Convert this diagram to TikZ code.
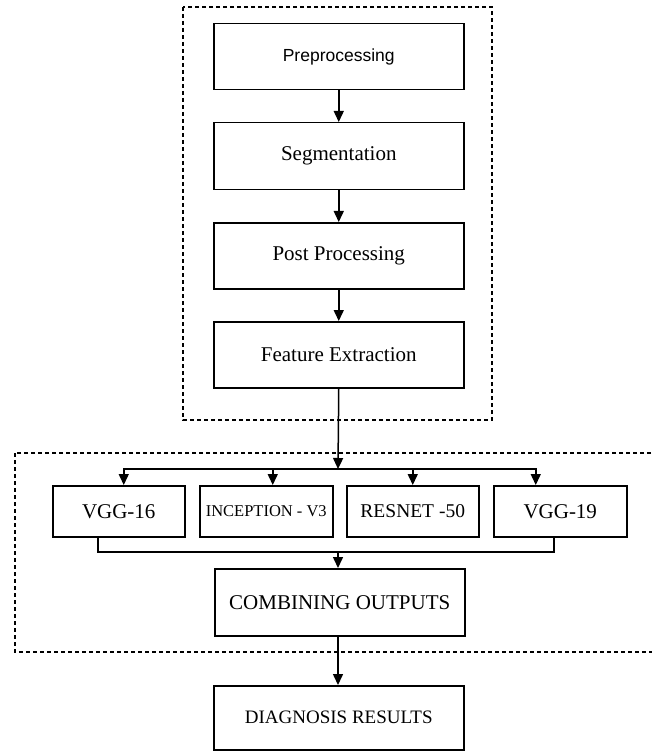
\documentclass[tikz,border=0pt]{standalone}
\usepackage{fontspec}
\setmainfont{Liberation Serif}
\newfontfamily\prepfont{Liberation Sans}
\usetikzlibrary{arrows.meta,calc}
\begin{document}
\begin{tikzpicture}[x=1pt,y=-1pt,
  box/.style={draw,line width=1.5pt,inner sep=0pt,anchor=north west},
  arr/.style={line width=1.5pt,-{Triangle[length=11pt,width=10pt]}},
  ln/.style={line width=1.5pt},
  grp/.style={line width=1.2pt,dash pattern=on 4pt off 3pt},
  lbl/.style={font=\fontsize{21}{24}\selectfont}]
\useasboundingbox (0,0) rectangle (652,751);
\begin{scope}
\clip (0,0) rectangle (652,751);
\draw[grp] (183,7) rectangle (492,420);
\draw[grp] (15,453) rectangle (680,652);
\end{scope}
% top chain
\node[box,minimum width=250pt,minimum height=66pt,font=\prepfont\fontsize{17.5}{20}\selectfont] (pre) at (213,23) {Preprocessing};
\node[box,lbl,minimum width=250pt,minimum height=67pt] (seg) at (213,122) {Segmentation};
\node[box,lbl,minimum width=250pt,minimum height=66pt] (post) at (213,222) {Post Processing};
\node[box,lbl,minimum width=250pt,minimum height=66pt] (fe) at (213,321) {Feature Extraction};
% models
\node[box,lbl,minimum width=132pt,minimum height=51pt] (v16) at (52,485) {VGG-16};
\node[box,font=\fontsize{16.5}{19}\selectfont,minimum width=133pt,minimum height=51pt] (inc) at (199,485) {INCEPTION - V3};
\node[box,font=\fontsize{19.5}{22}\selectfont,minimum width=132pt,minimum height=51pt] (res) at (346,485) {RESNET -50};
\node[box,lbl,minimum width=133pt,minimum height=51pt] (v19) at (493,485) {VGG-19};
\node[box,lbl,minimum width=250pt,minimum height=67pt] (comb) at (214,568) {COMBINING OUTPUTS};
\node[box,font=\fontsize{19}{22}\selectfont,minimum width=250pt,minimum height=64pt] (diag) at (213,685) {DIAGNOSIS RESULTS};
% connectors
\coordinate (split) at (338,469);
\coordinate (merge) at (338,552);
\draw[arr] (pre) -- (seg);
\draw[arr] (seg) -- (post);
\draw[arr] (post) -- (fe);
\draw[arr] (fe.south) -- (split);
\draw[arr] (split) -| ([xshift=5pt]v16.north);
\draw[arr] (split) -| ([xshift=6.5pt]inc.north);
\draw[arr] (split) -| (res.north);
\draw[arr] (split) -| ([xshift=-24.5pt]v19.north);
\draw[ln] ([xshift=-21pt]v16.south) |- (merge);
\draw[ln] ([xshift=-6.5pt]v19.south) |- (merge);
\draw[arr] (merge) -- (comb.north -| merge);
\draw[arr] (comb.south -| merge) -- (diag.north -| merge);
\end{tikzpicture}
\end{document}
